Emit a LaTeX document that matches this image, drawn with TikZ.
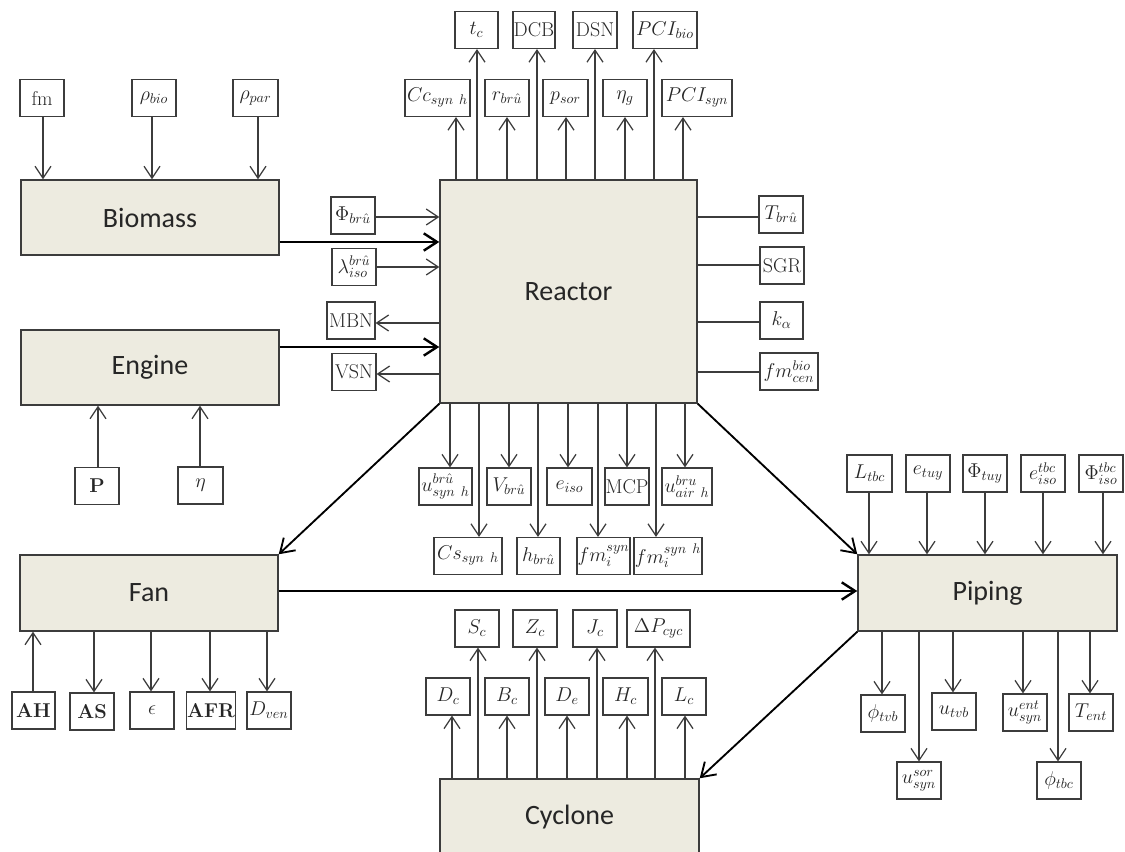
\RequirePackage{fix-cm}
\documentclass[tikz,border=0pt]{standalone}
\usepackage{fontspec}
\newfontfamily\carlito{Carlito}
\usetikzlibrary{arrows.meta}
\definecolor{beige}{RGB}{237,235,224}
\definecolor{edge}{RGB}{60,60,60}
\begin{document}
\begin{tikzpicture}[x=0.75pt,y=-0.75pt,
 mainbox/.style={draw=edge, fill=beige, line width=1.1pt, font=\carlito\fontsize{21}{25}\selectfont, text=black!85, inner sep=0pt},
 sb/.style={draw=edge, fill=white, line width=0.9pt, font=\fontsize{15}{17}\selectfont, text=black!85, inner xsep=0.3pt, inner ysep=0pt, minimum width=33pt, minimum height=27.75pt},
 bw/.style={minimum width=#1*0.75pt},
 ar/.style={draw=edge, line width=0.9pt, -{Straight Barb[length=9pt,width=12pt]}},
 thk/.style={draw=black, line width=1.8pt, -{Straight Barb[length=10pt,width=13pt]}},
 dg/.style={draw=black, line width=1.4pt, -{Straight Barb[length=10pt,width=13pt]}},
 ln/.style={draw=edge, line width=0.9pt}
]
\useasboundingbox (0,0) rectangle (1125,852);

% main boxes
\node[mainbox, minimum width=258*0.75pt, minimum height=75*0.75pt] (bio) at (150,217.5) {Biomass};
\node[mainbox, minimum width=258*0.75pt, minimum height=75*0.75pt] (eng) at (150,367.5) {Engine};
\node[mainbox, minimum width=257*0.75pt, minimum height=223*0.75pt] (R) at (568.5,291.5) {Reactor};
\node[mainbox, minimum width=258*0.75pt, minimum height=76*0.75pt] (fan) at (149,593) {Fan};
\node[mainbox, minimum width=259*0.75pt, minimum height=76*0.75pt] (pipe) at (987.5,593) {Piping};
\node[mainbox, minimum width=259*0.75pt, minimum height=76*0.75pt] (cyc) at (569.5,817) {Cyclone};

% reactor top
\node[sb,bw=43] (tc) at (476.5,30) {$t_c$};
\node[sb,bw=42] (dcb) at (534,30) {DCB};
\node[sb,bw=44] (dsn) at (595,30) {DSN};
\node[sb,bw=64] (pcib) at (665,30) {$PCI_{bio}$};
\node[sb,bw=65] (cc) at (437.5,98) {$Cc_{syn\ h}$};
\node[sb,bw=44] (rbr) at (507,98) {$r_{br\hat{u}}$};
\node[sb,bw=45] (psor) at (565.5,98) {$p_{sor}$};
\node[sb,bw=44] (etag) at (625,98) {$\eta_g$};
\node[sb,bw=70] (pcis) at (697,98) {$PCI_{syn}$};

% reactor left
\node[sb,bw=44] (phib) at (353,215.5) {$\Phi_{br\hat{u}}$};
\node[sb,bw=44] (lam) at (354,267) {$\lambda^{br\hat{u}}_{iso}$};
\node[sb,bw=48] (mbn) at (351,320.5) {MBN};
\node[sb,bw=44] (vsn) at (354,372) {VSN};

% reactor right
\node[sb,bw=44] (tbr) at (781,214.5) {$T_{br\hat{u}}$};
\node[sb,bw=44] (sgr) at (782,265.5) {SGR};
\node[sb,bw=43] (ka) at (781.5,320.5) {$k_\alpha$};
\node[sb,bw=58] (fmc) at (789,371.5) {$fm^{bio}_{cen}$};

% reactor bottom
\node[sb,bw=53] (usyn) at (445.5,486.5) {$u^{br\hat{u}}_{syn\ h}$};
\node[sb,bw=44] (vbr) at (509,486.5) {$V_{br\hat{u}}$};
\node[sb,bw=45] (eiso) at (569.5,486.5) {$e_{iso}$};
\node[sb,bw=44] (mcp) at (627,486.5) {MCP};
\node[sb,bw=50] (uair) at (687,486.5) {$u^{bru}_{air\ h}$};
\node[sb,bw=68] (cs) at (468,556) {$Cs_{syn\ h}$};
\node[sb,bw=43] (hbr) at (538.5,556) {$h_{br\hat{u}}$};
\node[sb,bw=53] (fmi) at (603.5,556) {$fm_i^{syn}$};
\node[sb,bw=68] (fmih) at (668,556) {$fm_i^{syn\ h}$};

% biomass inputs
\node[sb,bw=44] (fm) at (42,98) {fm};
\node[sb,bw=44] (rbio) at (154,98) {$\rho_{bio}$};
\node[sb,bw=45] (rpar) at (255.5,98) {$\rho_{par}$};

% engine inputs
\node[sb,bw=44] (P) at (97,486) {\textbf{P}};
\node[sb,bw=45] (eta) at (200.5,485.5) {$\eta$};

% fan
\node[sb,bw=43] (ah) at (33.5,710.5) {\textbf{AH}};
\node[sb,bw=44] (as) at (92,711.5) {\textbf{AS}};
\node[sb,bw=44] (eps) at (152,710.5) {$\epsilon$};
\node[sb,bw=44] (afr) at (211,710.5) {\textbf{AFR}};
\node[sb,bw=44] (dven) at (269,710.5) {$D_{ven}$};

% piping
\node[sb,bw=45] (ltbc) at (869.5,473.5) {$L_{tbc}$};
\node[sb,bw=44] (etuy) at (928,473.5) {$e_{tuy}$};
\node[sb,bw=44] (phituy) at (985,473.5) {$\Phi_{tuy}$};
\node[sb,bw=44] (eisot) at (1043,473.5) {$e^{tbc}_{iso}$};
\node[sb,bw=44] (phiisot) at (1101,473.5) {$\Phi^{tbc}_{iso}$};
\node[sb,bw=44] (phitvb) at (883,713.5) {$\phi_{tvb}$};
\node[sb,bw=44] (utvb) at (954,711.5) {$u_{tvb}$};
\node[sb,bw=44] (uent) at (1025,712.5) {$u^{ent}_{syn}$};
\node[sb,bw=44] (tent) at (1091,712.5) {$T_{ent}$};
\node[sb,bw=44] (usor) at (919,780.5) {$u^{sor}_{syn}$};
\node[sb,bw=44] (phitbc) at (1059,780.5) {$\phi_{tbc}$};

% cyclone
\node[sb,bw=44] (sc) at (477,628.5) {$S_c$};
\node[sb,bw=44] (zc) at (535,628.5) {$Z_c$};
\node[sb,bw=44] (jc) at (595,628.5) {$J_c$};
\node[sb,bw=63] (dp) at (658.5,628.5) {$\Delta P_{cyc}$};
\node[sb,bw=44] (dc) at (448,696.5) {$D_c$};
\node[sb,bw=44] (bc) at (507,696.5) {$B_c$};
\node[sb,bw=44] (de) at (567,696.5) {$D_e$};
\node[sb,bw=45] (hc) at (625.5,696.5) {$H_c$};
\node[sb,bw=44] (lc) at (684,696.5) {$L_c$};

% ---- connectors ----
% reactor top
\draw[ar] (R.north -| 456,0) -- (cc.south -| 456,0);
\draw[ar] (R.north -| 477,0) -- (tc.south -| 477,0);
\draw[ar] (R.north -| 507,0) -- (rbr.south -| 507,0);
\draw[ar] (R.north -| 537,0) -- (dcb.south -| 537,0);
\draw[ar] (R.north -| 566,0) -- (psor.south -| 566,0);
\draw[ar] (R.north -| 595,0) -- (dsn.south -| 595,0);
\draw[ar] (R.north -| 625,0) -- (etag.south -| 625,0);
\draw[ar] (R.north -| 654,0) -- (pcib.south -| 654,0);
\draw[ar] (R.north -| 683,0) -- (pcis.south -| 683,0);

% reactor left
\draw[ar] (phib.east |- 0,217) -- (R.west |- 0,217);
\draw[ar] (lam.east |- 0,267) -- (R.west |- 0,267);
\draw[ar] (R.west |- 0,323) -- (mbn.east |- 0,323);
\draw[ar] (R.west |- 0,374) -- (vsn.east |- 0,374);
\draw[thk] (bio.east |- 0,242) -- (R.west |- 0,242);
\draw[thk] (eng.east |- 0,347) -- (R.west |- 0,347);

% reactor right
\draw[ln] (R.east |- 0,217) -- (tbr.west |- 0,217);
\draw[ln] (R.east |- 0,265) -- (sgr.west |- 0,265);
\draw[ln] (R.east |- 0,322) -- (ka.west |- 0,322);
\draw[ln] (R.east |- 0,372) -- (fmc.west |- 0,372);

% reactor bottom
\draw[ar] (R.south -| 450,0) -- (usyn.north -| 450,0);
\draw[ar] (R.south -| 509,0) -- (vbr.north -| 509,0);
\draw[ar] (R.south -| 568,0) -- (eiso.north -| 568,0);
\draw[ar] (R.south -| 627,0) -- (mcp.north -| 627,0);
\draw[ar] (R.south -| 685,0) -- (uair.north -| 685,0);
\draw[ar] (R.south -| 479,0) -- (cs.north -| 479,0);
\draw[ar] (R.south -| 538,0) -- (hbr.north -| 538,0);
\draw[ar] (R.south -| 598,0) -- (fmi.north -| 598,0);
\draw[ar] (R.south -| 656,0) -- (fmih.north -| 656,0);

% biomass / engine inputs
\draw[ar] (fm.south -| 43,0) -- (bio.north -| 43,0);
\draw[ar] (rbio.south -| 152,0) -- (bio.north -| 152,0);
\draw[ar] (rpar.south -| 258,0) -- (bio.north -| 258,0);
\draw[ar] (P.north -| 98,0) -- (eng.south -| 98,0);
\draw[ar] (eta.north -| 200,0) -- (eng.south -| 200,0);

% fan
\draw[ar] (ah.north -| 33,0) -- (fan.south -| 33,0);
\draw[ar] (fan.south -| 94,0) -- (as.north -| 94,0);
\draw[ar] (fan.south -| 151,0) -- (eps.north -| 151,0);
\draw[ar] (fan.south -| 210,0) -- (afr.north -| 210,0);
\draw[ar] (fan.south -| 267,0) -- (dven.north -| 267,0);

% piping
\draw[ar] (ltbc.south -| 869,0) -- (pipe.north -| 869,0);
\draw[ar] (etuy.south -| 927,0) -- (pipe.north -| 927,0);
\draw[ar] (phituy.south -| 985,0) -- (pipe.north -| 985,0);
\draw[ar] (eisot.south -| 1043,0) -- (pipe.north -| 1043,0);
\draw[ar] (phiisot.south -| 1103,0) -- (pipe.north -| 1103,0);
\draw[ar] (pipe.south -| 882,0) -- (phitvb.north -| 882,0);
\draw[ar] (pipe.south -| 919,0) -- (usor.north -| 919,0);
\draw[ar] (pipe.south -| 953,0) -- (utvb.north -| 953,0);
\draw[ar] (pipe.south -| 1023,0) -- (uent.north -| 1023,0);
\draw[ar] (pipe.south -| 1058,0) -- (phitbc.north -| 1058,0);
\draw[ar] (pipe.south -| 1090,0) -- (tent.north -| 1090,0);

% cyclone
\draw[ar] (cyc.north -| 452,0) -- (dc.south -| 452,0);
\draw[ar] (cyc.north -| 478,0) -- (sc.south -| 478,0);
\draw[ar] (cyc.north -| 507,0) -- (bc.south -| 507,0);
\draw[ar] (cyc.north -| 537,0) -- (zc.south -| 537,0);
\draw[ar] (cyc.north -| 567,0) -- (de.south -| 567,0);
\draw[ar] (cyc.north -| 597,0) -- (jc.south -| 597,0);
\draw[ar] (cyc.north -| 627,0) -- (hc.south -| 627,0);
\draw[ar] (cyc.north -| 655,0) -- (dp.south -| 655,0);
\draw[ar] (cyc.north -| 685,0) -- (lc.south -| 685,0);

% main flows
\draw[thk] (fan.east |- 0,591) -- (pipe.west |- 0,591);
\draw[dg] (R.south west) -- (fan.north east);
\draw[dg] (R.south east) -- (pipe.north west);
\draw[dg] (pipe.south west) -- (cyc.north east);
\end{tikzpicture}
\end{document}
